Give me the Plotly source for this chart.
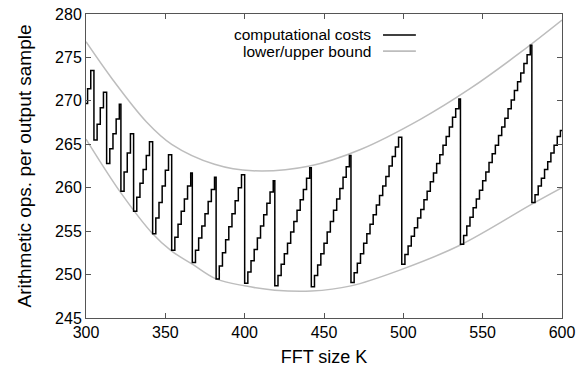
import plotly.graph_objects as go

# ---- computational costs (stepped sawtooth), K and value per step ----
cost_k = [
    300, 301, 303,
    305, 307, 309, 311,
    313, 315, 317, 319, 321,
    322, 324, 326, 328,
    330, 332, 334, 336, 338, 340,
    342, 344, 346, 348, 350, 352,
    354, 356, 358, 360, 362, 364, 366,
    367, 369, 371, 373, 375, 377, 379, 381,
    382, 384, 386, 388, 390, 392, 394, 396, 398,
    400, 402, 404, 406, 408, 410, 412, 414, 416, 418,
    419, 421, 423, 425, 427, 429, 431, 433, 435, 437, 439, 441,
    442, 444, 446, 448, 450, 452, 454, 456, 458, 460, 462, 464, 466,
    467, 469, 471, 473, 475, 477, 479, 481, 483, 485, 487, 489, 491, 493, 495, 497,
    499, 501, 503, 505, 507, 509, 511, 513, 515, 517, 519, 521, 523, 525, 527, 529, 531, 533, 535,
    536, 538, 540, 542, 544, 546, 548, 550, 552, 554, 556, 558, 560, 562, 564, 566, 568, 570, 572, 574, 576, 578, 580,
    581, 583, 585, 587, 589, 591, 593, 595, 597, 599, 600,
]
cost_v = [
    269.7, 271.4, 273.5,
    265.5, 267.3, 269.2, 271.0,
    262.8, 264.5, 266.2, 267.9, 269.6,
    259.6, 261.8, 264.0, 266.2,
    257.3, 258.9, 260.5, 262.1, 263.7, 265.3,
    254.7, 256.5, 258.3, 260.2, 262.0, 263.8,
    252.8, 254.3, 255.8, 257.3, 258.7, 260.2, 261.7,
    251.4, 252.8, 254.2, 255.6, 257.0, 258.4, 259.8, 261.2,
    249.5, 251.0, 252.5, 254.0, 255.5, 257.0, 258.5, 260.0, 261.5,
    249.0, 250.3, 251.6, 252.9, 254.2, 255.6, 256.9, 258.2, 259.5, 260.8,
    248.7, 249.9, 251.2, 252.4, 253.6, 254.9, 256.1, 257.4, 258.6, 259.8, 261.1, 262.3,
    248.6, 249.9, 251.1, 252.4, 253.6, 254.9, 256.1, 257.4, 258.7, 259.9, 261.2, 262.4, 263.7,
    249.1, 250.2, 251.3, 252.4, 253.6, 254.7, 255.8, 256.9, 258.0, 259.1, 260.2, 261.3, 262.5, 263.6, 264.7, 265.8,
    251.2, 252.3, 253.3, 254.4, 255.4, 256.5, 257.5, 258.6, 259.6, 260.7, 261.7, 262.8, 263.8, 264.9, 265.9, 267.0, 268.1, 269.1, 270.2,
    253.5, 254.5, 255.6, 256.6, 257.7, 258.7, 259.7, 260.8, 261.8, 262.9, 263.9, 264.9, 266.0, 267.0, 268.0, 269.1, 270.1, 271.2, 272.2, 273.2, 274.3, 275.3, 276.4,
    258.3, 259.2, 260.2, 261.1, 262.1, 263.0, 264.0, 264.9, 265.9, 266.6, 266.6,
]

# ---- bounds ----
upper_k = [300, 317, 338, 354, 381, 405, 441, 473, 511, 542, 574, 600]
upper_v = [276.8, 272.4, 267.6, 265.0, 262.7, 261.95, 262.5, 264.4, 267.9, 271.4, 275.6, 279.3]
lower_k = [300, 322, 342, 354, 367, 382, 400, 419, 442, 467, 499, 536, 581, 600]
lower_v = [265.6, 259.4, 254.7, 252.7, 251.2, 249.5, 248.7, 248.2, 248.1, 248.7, 250.6, 253.4, 258.1, 260.0]

x_ticks = [300, 350, 400, 450, 500, 550, 600]
y_ticks = [245, 250, 255, 260, 265, 270, 275, 280]
legend_labels = ["computational costs", "lower/upper bound"]

BOUND = "#bdbdbd"
AXIS = "#555555"
FONT = "Liberation Sans, Arial, Helvetica, sans-serif"

fig = go.Figure()
fig.add_trace(go.Scatter(x=upper_k, y=upper_v, mode="lines",
                         line=dict(color=BOUND, width=1.5, shape="spline", smoothing=1.0),
                         name=legend_labels[1], showlegend=False))
fig.add_trace(go.Scatter(x=lower_k, y=lower_v, mode="lines",
                         line=dict(color=BOUND, width=1.5, shape="spline", smoothing=1.0),
                         showlegend=False))
fig.add_trace(go.Scatter(x=cost_k, y=cost_v, mode="lines",
                         line=dict(color="black", width=1.5, shape="hv"),
                         name=legend_labels[0], showlegend=False))

# legend (text left of line sample, as in reference)
for i, (lab, col) in enumerate(zip(legend_labels, ["black", BOUND])):
    yy = 0.931 - i * 0.053
    fig.add_annotation(x=0.603, y=yy, xref="paper", yref="paper", text=lab,
                       showarrow=False, xanchor="right", yanchor="middle",
                       font=dict(family=FONT, size=15.5, color="black"))
    fig.add_shape(type="line", xref="paper", yref="paper",
                  x0=0.624, x1=0.693, y0=yy, y1=yy,
                  line=dict(color=col, width=1.6))

axis_common = dict(showline=True, linecolor=AXIS, linewidth=1, mirror="ticks",
                   ticks="inside", ticklen=5, tickcolor=AXIS, showgrid=False,
                   zeroline=False, automargin=False,
                   tickfont=dict(family=FONT, size=16, color="black"))
fig.update_xaxes(range=[300, 600], tickvals=x_ticks,
                 title=dict(text="FFT size K", font=dict(family=FONT, size=18, color="black"), standoff=10),
                 **axis_common)
fig.update_yaxes(range=[245, 280], tickvals=y_ticks,
                 title=dict(text="Arithmetic ops. per output sample", font=dict(family=FONT, size=19, color="black"), standoff=18),
                 **axis_common)

fig.update_layout(width=587, height=373, margin=dict(l=86, r=25, t=14, b=55),
                  plot_bgcolor="white", paper_bgcolor="white", showlegend=False)

fig.write_html("out.html", config={"displayModeBar": False},
               post_script="document.body.style.margin='0';")
